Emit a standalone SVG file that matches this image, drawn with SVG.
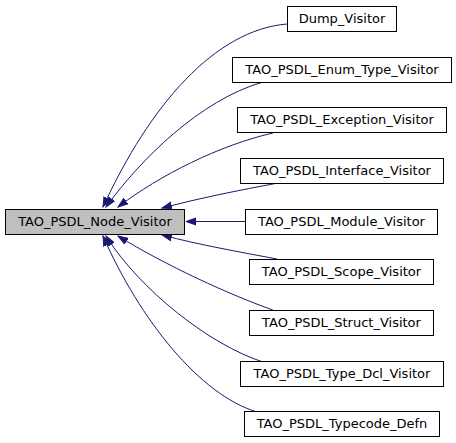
<svg xmlns="http://www.w3.org/2000/svg" width="456" height="443" viewBox="0 0 456 443">
<style>
.box rect{fill:#ffffff;stroke:#000000;stroke-width:1}
#node_visitor rect{fill:#bfbfbf}
.box text{font-family:"DejaVu Sans",sans-serif;font-size:13px;text-anchor:middle;fill:#000000}
#edges path{fill:none;stroke:#191970;stroke-width:1;marker-end:url(#arr)}
</style>
<defs>
<marker id="arr" markerUnits="userSpaceOnUse" markerWidth="12" markerHeight="10" refX="10" refY="4" orient="auto" viewBox="0 0 12 8">
<path d="M0,0.5 L10,4 L0,7.5 Z" fill="#191970" stroke="#191970" stroke-width="1"/>
</marker>
</defs>
<rect width="456" height="443" fill="#ffffff"/>
<g id="edges">
<path d="M287,24 C215,30 150,105 103,207"/>
<path d="M263,82 C200,100 140,160 106,207"/>
<path d="M273,133 C220,145 160,175 118,207"/>
<path d="M278,183 C240,190 200,198 162,208"/>
<path d="M245,221.5 L186,221.5"/>
<path d="M277,259 C240,252 200,245 162,235"/>
<path d="M273,310 C230,295 165,265 118,236"/>
<path d="M263,362 C210,345 140,290 106,236"/>
<path d="M257,412 C200,395 140,320 103,236"/>
</g>
<g id="node_visitor" class="box"><rect x="5.5" y="209.5" width="179" height="25"/><text x="95" y="226">TAO_PSDL_Node_Visitor</text></g>
<g id="dump_visitor" class="box"><rect x="287.5" y="6.5" width="109" height="25"/><text x="342" y="23">Dump_Visitor</text></g>
<g id="enum_type_visitor" class="box"><rect x="232.5" y="57.5" width="219" height="25"/><text x="342" y="74">TAO_PSDL_Enum_Type_Visitor</text></g>
<g id="exception_visitor" class="box"><rect x="237.5" y="107.5" width="209" height="25"/><text x="342" y="124">TAO_PSDL_Exception_Visitor</text></g>
<g id="interface_visitor" class="box"><rect x="240.5" y="158.5" width="203" height="25"/><text x="342" y="175">TAO_PSDL_Interface_Visitor</text></g>
<g id="module_visitor" class="box"><rect x="245.5" y="209.5" width="192" height="25"/><text x="341.5" y="226">TAO_PSDL_Module_Visitor</text></g>
<g id="scope_visitor" class="box"><rect x="249.5" y="259.5" width="184" height="25"/><text x="341.5" y="276">TAO_PSDL_Scope_Visitor</text></g>
<g id="struct_visitor" class="box"><rect x="249.5" y="310.5" width="184" height="25"/><text x="341.5" y="327">TAO_PSDL_Struct_Visitor</text></g>
<g id="type_dcl_visitor" class="box"><rect x="240.5" y="361.5" width="203" height="25"/><text x="342" y="378">TAO_PSDL_Type_Dcl_Visitor</text></g>
<g id="typecode_defn" class="box"><rect x="244.5" y="411.5" width="195" height="25"/><text x="342" y="428">TAO_PSDL_Typecode_Defn</text></g>
</svg>
